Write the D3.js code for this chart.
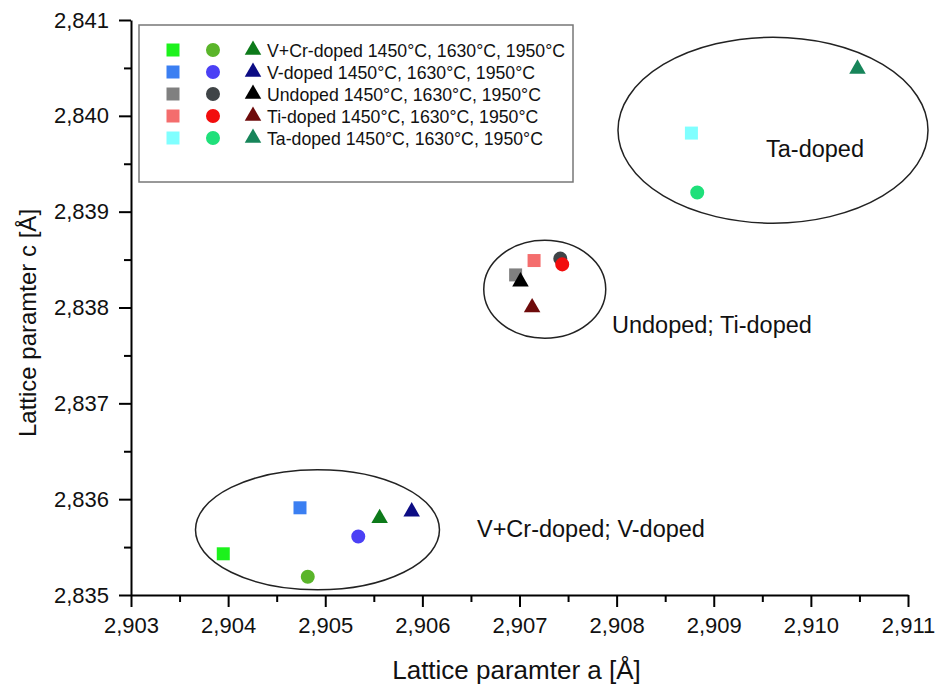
<!DOCTYPE html>
<html>
<head>
<meta charset="utf-8">
<script src="https://cdn.jsdelivr.net/npm/d3@7"></script>
<style>
  body { margin: 0; background: #fff; }
  svg { display: block; font-family: Arial, "Liberation Sans", Helvetica, sans-serif; }
</style>
</head>
<body>
<div id="chart"></div>
<script>
// groups and sintering temperatures
const groups = ["V+Cr-doped", "V-doped", "Undoped", "Ti-doped", "Ta-doped"];
const temps = ["1450°C", "1630°C", "1950°C"];

// lattice parameter a per temperature (same order as groups)
const a1450 = [2.90395, 2.90474, 2.90696, 2.90715, 2.90877];
const a1630 = [2.90482, 2.90534, 2.90742, 2.90744, 2.90883];
const a1950 = [2.90556, 2.90589, 2.90701, 2.90713, 2.91048];

// lattice parameter c per temperature
const c1450 = [2.83543, 2.83591, 2.83834, 2.83849, 2.83982];
const c1630 = [2.83519, 2.83561, 2.83851, 2.83845, 2.83920];
const c1950 = [2.83580, 2.83587, 2.83827, 2.83800, 2.84049];

const xTicks = [2.903, 2.904, 2.905, 2.906, 2.907, 2.908, 2.909, 2.910, 2.911];
const yTicks = [2.835, 2.836, 2.837, 2.838, 2.839, 2.840, 2.841];

// cluster ellipses (data units) and their labels
const clusterNames = ["V+Cr-doped; V-doped", "Undoped; Ti-doped", "Ta-doped"];
const clusterA = [2.90492, 2.90726, 2.90961];
const clusterC = [2.83568, 2.83819, 2.83985];
const clusterRa = [0.001256, 0.000628, 0.001596];
const clusterRc = [0.000626, 0.000511, 0.000970];
const labelA = [2.906562, 2.907952, 2.909538];
const labelC = [2.835605, 2.837734, 2.839571];

// colours: rows = groups, columns = temps
const colors = [
  ["#1cf21c", "#5ab52a", "#0d7a1a"],
  ["#3b7ff2", "#4b40f5", "#0c0c84"],
  ["#808080", "#3f4447", "#000000"],
  ["#f46d6d", "#f20d0d", "#6e0b0b"],
  ["#80ffff", "#1fe07a", "#17855a"]
];
const shapes = [d3.symbolSquare, d3.symbolCircle, d3.symbolTriangle];
const shapeSize = [169, 154, 118];

const width = 938, height = 686;
const margin = {top: 20, right: 30, bottom: 91, left: 131};

const svg = d3.select("#chart").append("svg")
    .attr("width", width)
    .attr("height", height);

const x = d3.scaleLinear().domain([2.903, 2.911]).range([margin.left, width - margin.right]);
const y = d3.scaleLinear().domain([2.835, 2.841]).range([height - margin.bottom, margin.top]);

const fmt = v => d3.format(".3f")(v).replace(".", ",");

// minor ticks
const xMinor = xTicks.slice(0, -1).map(v => v + 0.0005);
const yMinor = yTicks.slice(0, -1).map(v => v + 0.0005);

svg.append("g")
    .attr("transform", `translate(0,${y.range()[0]})`)
    .call(d3.axisBottom(x).tickValues(xMinor).tickSize(7).tickFormat(""))
    .call(g => g.select(".domain").remove())
    .selectAll("line").attr("stroke-width", 2);

svg.append("g")
    .attr("transform", `translate(${x.range()[0]},0)`)
    .call(d3.axisLeft(y).tickValues(yMinor).tickSize(7).tickFormat(""))
    .call(g => g.select(".domain").remove())
    .selectAll("line").attr("stroke-width", 2);

// major axes
const xAxis = svg.append("g")
    .attr("transform", `translate(0,${y.range()[0]})`)
    .call(d3.axisBottom(x).tickValues(xTicks).tickSize(12).tickSizeOuter(0).tickPadding(10).tickFormat(fmt));
xAxis.selectAll("line").attr("stroke-width", 2);
xAxis.select(".domain").attr("stroke-width", 2);
xAxis.selectAll("text").style("font-size", "22px").attr("fill", "#111");

const yAxis = svg.append("g")
    .attr("transform", `translate(${x.range()[0]},0)`)
    .call(d3.axisLeft(y).tickValues(yTicks).tickSize(12).tickSizeOuter(0).tickPadding(10).tickFormat(fmt));
yAxis.selectAll("line").attr("stroke-width", 2);
yAxis.select(".domain").attr("stroke-width", 2);
yAxis.selectAll("text").style("font-size", "22px").attr("fill", "#111");

// axis titles
svg.append("text")
    .attr("x", (x.range()[0] + x.range()[1]) / 2 - 3)
    .attr("y", 679)
    .attr("text-anchor", "middle")
    .style("font-size", "26px")
    .attr("fill", "#111")
    .text("Lattice paramter a [Å]");

svg.append("text")
    .attr("transform", "translate(36,323) rotate(-90)")
    .attr("text-anchor", "middle")
    .style("font-size", "24px")
    .attr("fill", "#111")
    .text("Lattice paramter c [Å]");

// ellipses
svg.append("g").selectAll("ellipse")
    .data(clusterNames)
    .join("ellipse")
    .attr("cx", (d, i) => x(clusterA[i]))
    .attr("cy", (d, i) => y(clusterC[i]))
    .attr("rx", (d, i) => x(clusterA[i] + clusterRa[i]) - x(clusterA[i]))
    .attr("ry", (d, i) => y(clusterC[i]) - y(clusterC[i] + clusterRc[i]))
    .attr("fill", "none")
    .attr("stroke", "#222")
    .attr("stroke-width", 1.5);

svg.append("g").selectAll("text")
    .data(clusterNames)
    .join("text")
    .attr("x", (d, i) => x(labelA[i]))
    .attr("y", (d, i) => y(labelC[i]))
    .style("font-size", "23.5px")
    .attr("fill", "#111")
    .text(d => d);

// points
const aSets = [a1450, a1630, a1950];
const cSets = [c1450, c1630, c1950];
const points = [];
groups.forEach((g, gi) => {
  temps.forEach((t, ti) => {
    points.push({g: gi, t: ti, a: aSets[ti][gi], c: cSets[ti][gi]});
  });
});

svg.append("g").selectAll("path")
    .data(points)
    .join("path")
    .attr("transform", d => `translate(${x(d.a)},${y(d.c)})`)
    .attr("d", d => d3.symbol().type(shapes[d.t]).size(shapeSize[d.t])())
    .attr("fill", d => colors[d.g][d.t]);

// legend
const legend = svg.append("g").attr("transform", "translate(139,25)");
legend.append("rect")
    .attr("width", 434)
    .attr("height", 157)
    .attr("fill", "#fff")
    .attr("stroke", "#777")
    .attr("stroke-width", 1.5);

const rows = legend.selectAll("g.row")
    .data(groups)
    .join("g")
    .attr("class", "row")
    .attr("transform", (d, i) => `translate(0,${25 + i * 22})`);

temps.forEach((t, ti) => {
  rows.append("path")
      .attr("transform", `translate(${34 + ti * 40},0)`)
      .attr("d", d3.symbol().type(shapes[ti]).size(shapeSize[ti])())
      .attr("fill", (d, gi) => colors[gi][ti]);
});

rows.append("text")
    .attr("x", 128)
    .attr("y", 6.5)
    .style("font-size", "17.7px")
    .attr("fill", "#111")
    .text(d => `${d} ${temps.join(", ")}`);
</script>
</body>
</html>
